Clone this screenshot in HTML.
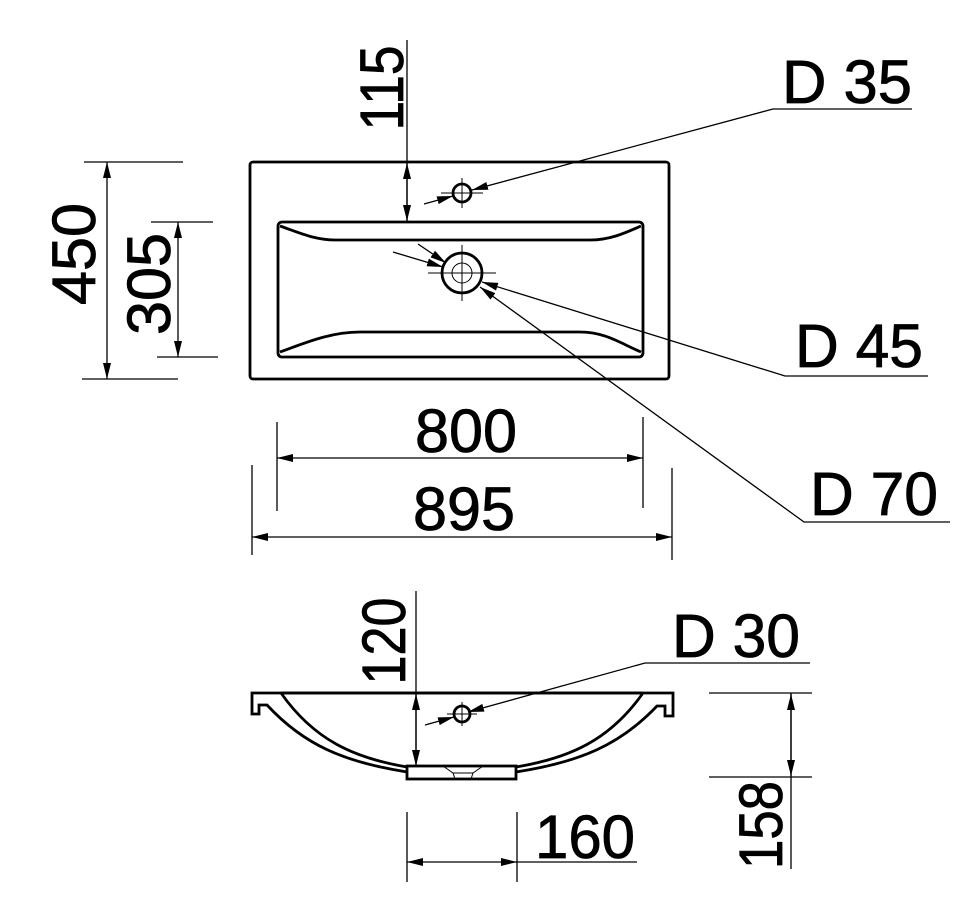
<!DOCTYPE html>
<html><head><meta charset="utf-8"><style>html,body{margin:0;padding:0;background:#fff}svg{display:block}</style></head>
<body>
<svg width="968" height="905" viewBox="0 0 968 905" xmlns="http://www.w3.org/2000/svg" font-family="Liberation Sans, Arial, sans-serif">
<defs>
<marker id="a" viewBox="0 0 16 8" refX="16" refY="4" markerWidth="16" markerHeight="8" markerUnits="userSpaceOnUse" orient="auto-start-reverse"><path d="M0,0 L16,4 L0,8 Z" fill="#000"/></marker>
</defs>
<g fill="none" stroke="#000">
<rect x="250" y="162" width="419" height="217" rx="3" stroke-width="2.8"/>
<rect x="278" y="222" width="365" height="135" rx="4" stroke-width="2.8"/>
<path d="M280,226 C300,233 315,240 335,240 L590,240 C610,240 625,233 641,226" stroke-width="2.8"/>
<path d="M280,352 C305,343 330,332 360,332 L580,332 C605,332 620,343 641,352" stroke-width="2.8"/>
<circle cx="462" cy="193" r="9" stroke-width="2.8"/>
<circle cx="462" cy="273" r="20" stroke-width="2.8"/>
<circle cx="462" cy="273" r="10" stroke-width="1"/>
<g stroke-width="1">
<line x1="462" y1="178" x2="462" y2="208"/><line x1="441" y1="193" x2="483" y2="193"/>
<line x1="462" y1="245" x2="462" y2="301"/><line x1="428" y1="273" x2="496" y2="273"/>
</g>
<g stroke-width="1.3">
<polyline points="912,109 773,109 472,190" marker-end="url(#a)"/>
<line x1="424" y1="204" x2="453" y2="196" marker-end="url(#a)"/>
<polyline points="928,376 785,376 482,282" marker-end="url(#a)"/>
<line x1="393" y1="252" x2="443" y2="267" marker-end="url(#a)"/>
<polyline points="950,522 804,522 480,287" marker-end="url(#a)"/>
<line x1="418" y1="244" x2="446" y2="263" marker-end="url(#a)"/>
</g>
<g stroke-width="1.3">
<line x1="407" y1="40" x2="407" y2="221"/>
<line x1="407" y1="192" x2="407" y2="163" marker-end="url(#a)"/>
<line x1="407" y1="192" x2="407" y2="221" marker-end="url(#a)"/>
<line x1="84" y1="162" x2="183" y2="162"/><line x1="82" y1="379" x2="178" y2="379"/>
<line x1="107" y1="270" x2="107" y2="162" marker-end="url(#a)"/>
<line x1="107" y1="270" x2="107" y2="379" marker-end="url(#a)"/>
<line x1="151" y1="222" x2="213" y2="222"/><line x1="157" y1="357" x2="218" y2="357"/>
<line x1="178" y1="290" x2="178" y2="222" marker-end="url(#a)"/>
<line x1="178" y1="290" x2="178" y2="357" marker-end="url(#a)"/>
<line x1="277" y1="422" x2="277" y2="511"/><line x1="643" y1="417" x2="643" y2="508"/>
<line x1="460" y1="458" x2="277" y2="458" marker-end="url(#a)"/>
<line x1="460" y1="458" x2="643" y2="458" marker-end="url(#a)"/>
<line x1="252" y1="465" x2="252" y2="555"/><line x1="672" y1="468" x2="672" y2="560"/>
<line x1="460" y1="537" x2="252" y2="537" marker-end="url(#a)"/>
<line x1="460" y1="537" x2="672" y2="537" marker-end="url(#a)"/>
</g>
<path d="M281,693 L673,693 L673,716 L665,716 L665,706 L657,706 C620,745 580,762 516,772 M643,693 C610,740 570,758 516,767" stroke-width="2.8"/>
<path d="M643,693 L252,693 L252,714 L259,714 L259,705 L267,705 C304,745 344,762 407,772 M281,693 C314,740 354,758 407,767" stroke-width="2.8"/>
<rect x="407" y="766" width="109" height="13" stroke-width="2.8"/>
<path d="M443,766 L453,773 L473,773 L483,766 M453,773 L455,779 M473,773 L471,779" stroke-width="1"/>
<circle cx="462" cy="714" r="8" stroke-width="2.8"/>
<g stroke-width="1"><line x1="462" y1="702" x2="462" y2="726"/><line x1="447" y1="714" x2="477" y2="714"/></g>
<g stroke-width="1.3">
<polyline points="810,663 645,663 468,712" marker-end="url(#a)"/>
<line x1="425" y1="725" x2="454" y2="717" marker-end="url(#a)"/>
<line x1="416" y1="591" x2="416" y2="766"/>
<line x1="416" y1="730" x2="416" y2="694" marker-end="url(#a)"/>
<line x1="416" y1="730" x2="416" y2="766" marker-end="url(#a)"/>
<line x1="709" y1="693" x2="812" y2="693"/><line x1="709" y1="777" x2="812" y2="777"/>
<line x1="791" y1="693" x2="791" y2="869"/>
<line x1="791" y1="735" x2="791" y2="694" marker-end="url(#a)"/>
<line x1="791" y1="735" x2="791" y2="776" marker-end="url(#a)"/>
<line x1="407" y1="812" x2="407" y2="882"/><line x1="517" y1="812" x2="517" y2="882"/>
<line x1="470" y1="862" x2="407" y2="862" marker-end="url(#a)"/>
<line x1="470" y1="862" x2="517" y2="862" marker-end="url(#a)"/>
<line x1="517" y1="862" x2="637" y2="862"/>
</g>
</g>
<g fill="#000" stroke="#000" stroke-width="0.8" font-size="61">
<text x="782" y="103" textLength="130" lengthAdjust="spacingAndGlyphs">D 35</text>
<text x="795" y="367" textLength="128" lengthAdjust="spacingAndGlyphs">D 45</text>
<text x="810" y="515" textLength="128" lengthAdjust="spacingAndGlyphs">D 70</text>
<text x="672" y="657" textLength="128" lengthAdjust="spacingAndGlyphs">D 30</text>
<text x="415" y="452" textLength="102" lengthAdjust="spacingAndGlyphs">800</text>
<text x="413" y="530" textLength="102" lengthAdjust="spacingAndGlyphs">895</text>
<text x="535" y="858" textLength="100" lengthAdjust="spacingAndGlyphs">160</text>
<text transform="translate(95,254) rotate(-90)" text-anchor="middle" textLength="102" lengthAdjust="spacingAndGlyphs">450</text>
<text transform="translate(170,284) rotate(-90)" text-anchor="middle" textLength="102" lengthAdjust="spacingAndGlyphs">305</text>
<text transform="translate(403,88) rotate(-90)" text-anchor="middle" textLength="85" lengthAdjust="spacingAndGlyphs">115</text>
<text transform="translate(405,641) rotate(-90)" text-anchor="middle" textLength="87" lengthAdjust="spacingAndGlyphs">120</text>
<text transform="translate(782,825) rotate(-90)" text-anchor="middle" textLength="88" lengthAdjust="spacingAndGlyphs">158</text>
</g>
</svg>
</body></html>
